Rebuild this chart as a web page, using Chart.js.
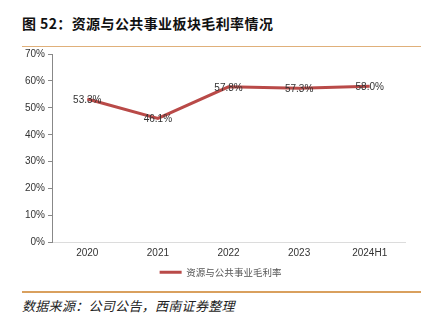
<!DOCTYPE html>
<html>
<head>
<meta charset="utf-8">
<script src="https://cdn.jsdelivr.net/npm/chart.js@4.4.0/dist/chart.umd.min.js"></script>
<style>
  html, body { margin: 0; padding: 0; background: #fff; }
  body { width: 432px; height: 323px; position: relative; overflow: hidden;
         font-family: "Noto Sans CJK SC", "Liberation Sans", sans-serif; }
  #title { position: absolute; left: 22px; top: 13px; font-size: 14px; font-weight: bold;
           color: #111; letter-spacing: 0.4px; white-space: nowrap; }
  .rule { position: absolute; left: 22px; width: 399px; height: 1px; background: #e0b07a; }
  #rule1 { top: 46px; }
  #rule2 { top: 291px; background: #d9a05e; height: 2px; }
  #source { position: absolute; left: 22px; top: 296px; font-size: 13px; font-style: italic;
            color: #222; letter-spacing: 0.3px; white-space: nowrap; }
  #box { position: absolute; left: 0; top: 45px; width: 432px; height: 242px; }
</style>
</head>
<body>
<div id="title">图 52：资源与公共事业板块毛利率情况</div>
<div class="rule" id="rule1"></div>
<div id="box"><canvas id="grafico"></canvas></div>
<div class="rule" id="rule2"></div>
<div id="source">数据来源：公司公告，西南证券整理</div>
<script>
// datos del grafico
var categorias = ['2020', '2021', '2022', '2023', '2024H1'];
var margenBruto = [53.3, 46.1, 57.8, 57.3, 58.0];
var nombreSerie = '资源与公共事业毛利率';

// etiquetas de valor centradas sobre cada punto
var etiquetas = {
    id: 'etiquetas',
    afterDatasetsDraw: function (chart) {
        var ctx = chart.ctx;
        var meta = chart.getDatasetMeta(0);
        ctx.save();
        ctx.font = '10px "Liberation Sans", Arial, sans-serif';
        ctx.fillStyle = '#333';
        ctx.textAlign = 'center';
        ctx.textBaseline = 'middle';
        meta.data.forEach(function (pt, i) {
            ctx.fillText(margenBruto[i].toFixed(1) + '%', pt.x, pt.y + 1);
        });
        ctx.restore();
    }
};

// desplaza la leyenda hacia el centro del area del grafico
var moverLeyenda = {
    id: 'moverLeyenda',
    afterLayout: function (chart) {
        if (chart.legend) {
            chart.legend.left += 18;
            chart.legend.right += 18;
        }
    }
};

var ctx = document.getElementById('grafico').getContext('2d');
var grafico = new Chart(ctx, {
    type: 'line',
    data: {
        labels: categorias,
        datasets: [{
            label: nombreSerie,
            data: margenBruto,
            borderColor: '#b94a48',
            backgroundColor: '#b94a48',
            borderWidth: 3,
            pointRadius: 0,
            tension: 0
        }]
    },
    options: {
        responsive: true,
        maintainAspectRatio: false,
        animation: false,
        layout: { padding: { left: 0, right: 27, top: 6, bottom: 0 } },
        plugins: {
            legend: {
                position: 'bottom',
                labels: {
                    usePointStyle: true,
                    pointStyle: 'line',
                    pointStyleWidth: 22,
                    boxHeight: 10,
                    padding: 5,
                    color: '#555',
                    font: { size: 9.5, family: '"Noto Sans CJK SC", sans-serif' }
                }
            },
            tooltip: { enabled: false }
        },
        scales: {
            x: {
                offset: true,
                grid: { display: false, drawTicks: false },
                border: { color: '#dcdcdc' },
                ticks: { color: '#333', font: { size: 10, family: '"Liberation Sans", Arial' }, padding: 5 },
                afterFit: function (scale) { scale.height = 20; }
            },
            y: {
                min: 0,
                max: 70,
                grid: { display: true, drawOnChartArea: false, drawTicks: true, tickLength: 4, color: '#888' },
                border: { color: '#888', width: 1 },
                ticks: {
                    stepSize: 10,
                    color: '#333',
                    padding: 3,
                    font: { size: 10, family: '"Liberation Sans", Arial' },
                    callback: function (v) { return v + '%'; }
                },
                afterFit: function (scale) { scale.width = 52; }
            }
        }
    },
    plugins: [etiquetas, moverLeyenda]
});
</script>
</body>
</html>
